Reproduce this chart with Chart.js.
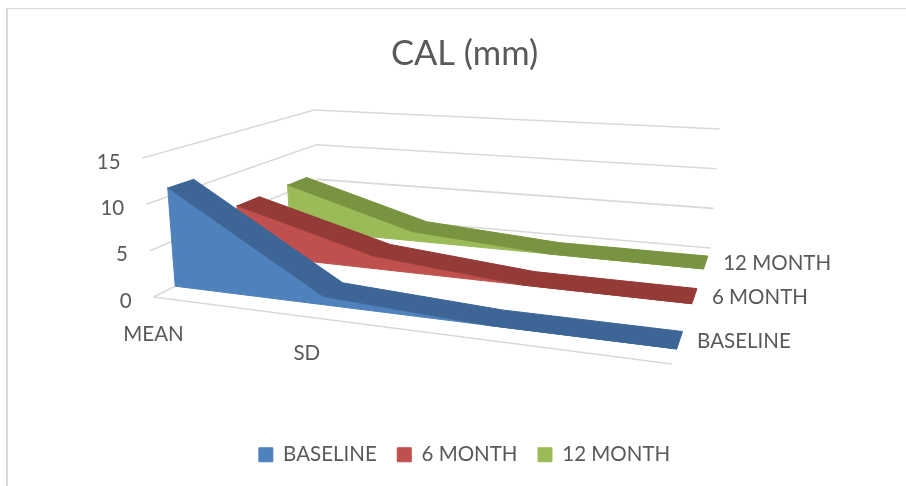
<!DOCTYPE html>
<html>
<head>
<meta charset="utf-8">
<title>CAL (mm)</title>
<script src="https://cdn.jsdelivr.net/npm/chart.js@4"></script>
<style>
    html, body { margin: 0; padding: 0; background: #fff; overflow: hidden; width: 906px; height: 486px; }
    #frame { position: absolute; left: 6px; top: 8px; width: 960px; height: 520px; border-left: 2px solid #d9d9d9; border-top: 1px solid #d9d9d9; }
    #chart { position: absolute; left: 0; top: 0; }
</style>
</head>
<body>
<div id="frame"></div>
<canvas id="chart" width="929" height="486"></canvas>
<script>
const categories = ['MEAN', 'SD', '', ''];
const seriesNames = ['BASELINE', '6 MONTH', '12 MONTH'];
const baseline = [11, 0.9, 0, 0];
const sixMonth = [6, 1.5, 0, 0];
const twelveMonth = [6, 1.2, 0, 0];
const yTicks = [0, 5, 10, 15];

const seriesValues = [baseline, sixMonth, twelveMonth];
const faceColors = ['#4f81bd', '#c0504d', '#9bbb59'];
const topColors = ['#3d6595', '#943a37', '#789440'];
const textColor = '#595959';
const gridColor = '#d9d9d9';
const fontName = 'Lato, Carlito, sans-serif';

// where each series band sits between the front and back of the floor
const bandDepth = [[0.13, 0.28], [0.52, 0.65], [0.82, 0.93]];

// the 3D box as it appears on screen
const floor = {
    frontLeft: [153, 297], frontRight: [672, 364],
    backLeft: [320, 214], backRight: [711, 248]
};
// screen movement for one unit of value at each floor corner
const rise = {
    frontLeft: [-0.73, -9.27], frontRight: [0.8, -10.2],
    backLeft: [-0.4, -6.93], backRight: [0.6, -7.93]
};
const perspective = 1.19;

function mix(p, q, t) {
    return [p[0] + (q[0] - p[0]) * t, p[1] + (q[1] - p[1]) * t];
}

function corners(box, along, depth) {
    let front = mix(box.frontLeft, box.frontRight, along);
    let back = mix(box.backLeft, box.backRight, along);
    return mix(front, back, depth);
}

// category index + floor depth + value -> position on the page
function project(index, depth, value) {
    let a = index / (categories.length - 1);
    let along = a / (a + (1 - a) * perspective);
    let base = corners(floor, along, depth);
    let up = corners(rise, along, depth);
    return { x: base[0] + up[0] * value, y: base[1] + up[1] * value };
}

function polygonDataset(points, color, label, order) {
    return {
        label: label,
        data: points,
        showLine: true,
        fill: 'shape',
        backgroundColor: color,
        borderColor: color,
        borderWidth: 1,
        pointRadius: 0,
        tension: 0,
        order: order
    };
}

function lineDataset(points, order) {
    return {
        data: points,
        showLine: true,
        fill: false,
        borderColor: gridColor,
        backgroundColor: gridColor,
        borderWidth: 1.6,
        pointRadius: 0,
        tension: 0,
        order: order
    };
}

let datasets = [];
seriesValues.forEach((values, s) => {
    let [near, far] = bandDepth[s];
    let face = [], top = [];
    values.forEach((v, i) => {
        face.unshift(project(i, near, 0));
        face.push(project(i, near, v));
        top.push(project(i, near, v));
    });
    for (let i = values.length - 1; i >= 0; i--) {
        top.push(project(i, far, values[i]));
    }
    datasets.push(polygonDataset(top, topColors[s], undefined, s * 2));
    datasets.push(polygonDataset(face, faceColors[s], seriesNames[s], s * 2 + 1));
});

// walls and floor lines
const last = categories.length - 1;
yTicks.forEach(v => {
    datasets.push(lineDataset([project(0, 0, v), project(0, 1, v), project(last, 1, v)], 20));
});
datasets.push(lineDataset([project(0, 0, 0), project(last, 0, 0)], 20));

const axisText = {
    id: 'axisText',
    afterDatasetsDraw(chart) {
        let ctx = chart.ctx;
        let xs = chart.scales.x, ys = chart.scales.y;
        ctx.save();
        ctx.fillStyle = textColor;
        ctx.font = '20.5px ' + fontName;
        ctx.textBaseline = 'middle';

        ctx.textAlign = 'right';
        yTicks.forEach(v => {
            let p = project(0, 0, v);
            ctx.fillText(String(v), xs.getPixelForValue(p.x) - 22, ys.getPixelForValue(p.y) + 4);
        });

        ctx.textAlign = 'center';
        categories.forEach((name, i) => {
            let p = project(i, 0, 0);
            ctx.fillText(name, xs.getPixelForValue(p.x), ys.getPixelForValue(p.y) + 37);
        });

        ctx.textAlign = 'left';
        seriesNames.forEach((name, s) => {
            let depth = (bandDepth[s][0] + bandDepth[s][1]) / 2;
            let p = project(last, depth, 0);
            ctx.fillText(name, xs.getPixelForValue(p.x) + 17.5, ys.getPixelForValue(p.y) + 1);
        });
        ctx.restore();
    }
};

let ctx = document.getElementById('chart').getContext('2d');
let chart = new Chart(ctx, {
    type: 'scatter',
    data: { datasets: datasets },
    plugins: [axisText],
    options: {
        responsive: false,
        animation: false,
        devicePixelRatio: 1,
        layout: { padding: { bottom: 11 } },
        scales: {
            x: { display: false, min: 0, max: 929 },
            y: { display: false, reverse: true, min: 0, max: 486 }
        },
        plugins: {
            tooltip: { enabled: false },
            title: {
                display: true,
                text: 'CAL (mm)',
                color: textColor,
                font: { family: fontName, size: 34.5, weight: 'normal' },
                padding: { top: 33, bottom: 10 }
            },
            legend: {
                position: 'bottom',
                labels: {
                    filter: item => !!item.text,
                    color: textColor,
                    font: { family: fontName, size: 20.5 },
                    boxWidth: 14,
                    boxHeight: 14,
                    padding: 20.5
                }
            }
        }
    }
});

// the title and legend take room, so line the scales up with what is left
chart.options.scales.x.min = chart.chartArea.left;
chart.options.scales.x.max = chart.chartArea.right;
chart.options.scales.y.min = chart.chartArea.top;
chart.options.scales.y.max = chart.chartArea.bottom;
chart.update('none');
</script>
</body>
</html>
